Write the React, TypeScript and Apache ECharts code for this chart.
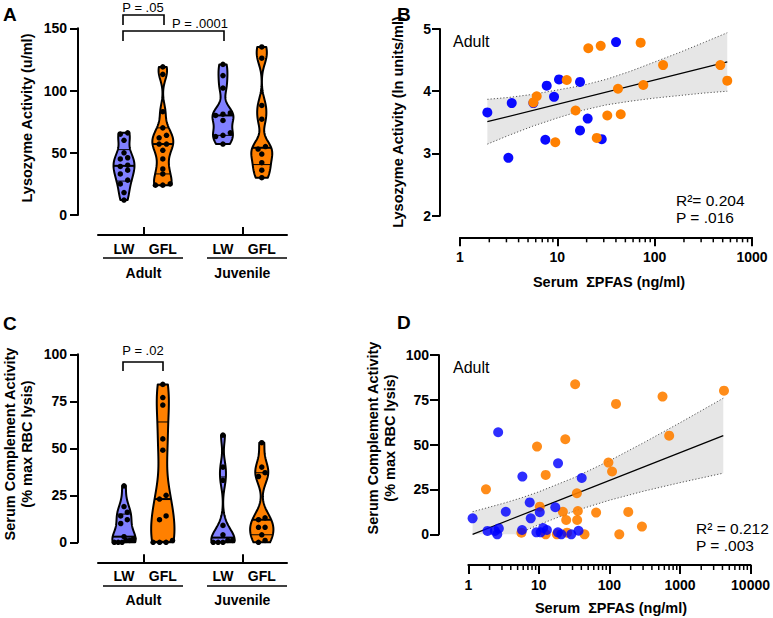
import React, { useEffect, useRef } from "react";
import * as echarts from "echarts";

const FONT = "'Liberation Sans', Arial, Helvetica, sans-serif";

// ---------- Violin panels (A, C) ----------
const speciesLabels = ["LW", "GFL", "LW", "GFL"];
const ageLabels = ["Adult", "Juvenile"];
const violinPositions = [1, 2, 3.55, 4.55];
const ageTickPositions = [1.5, 4.05];
const violinColors = ["#8080ff", "#ff8000", "#8080ff", "#ff8000"];

// Panel A: lysozyme activity (u/ml)
const lysoAdultLW = [66, 65, 60, 50, 46, 45, 40, 39, 36, 33, 28, 25, 18, 12];
const lysoAdultGFL = [119, 113, 83, 70, 64, 62, 57, 57, 52, 45, 37, 33, 25, 24, 24];
const lysoJuvLW = [121, 112, 102, 82, 81, 80, 76, 66, 64, 63, 57];
const lysoJuvGFL = [135, 126, 88, 77, 55, 53, 49, 42, 36, 30];

// Panel C: serum complement activity (% max RBC lysis)
const compAdultLW = [30, 19, 16, 14, 12, 10, 3, 2, 1, 1, 0, 0, 0];
const compAdultGFL = [84, 77, 73, 55, 49, 25, 23, 14, 12, 1, 0, 0, 0];
const compJuvLW = [57, 40, 33, 9, 4, 1, 1, 0, 0, 0];
const compJuvGFL = [53, 40, 37, 35, 13, 12, 8, 8, 4, 1, 0];

const yTicksA = [0, 150, 50];
const yTicksC = [0, 100, 25];

// ---------- Panel B ----------
const bBlueX = [1.91, 3.14, 3.40, 5.67, 7.53, 7.78, 9.25, 10.4, 17.1, 17.1, 20.5, 28.6, 40.1];
const bBlueY = [3.66, 2.93, 3.81, 3.81, 3.22, 4.09, 3.91, 4.19, 4.15, 3.37, 3.56, 3.23, 4.79];
const bOrangeX = [5.67, 6.14, 9.53, 12.5, 15.4, 20.8, 25.4, 27.9, 32.6, 42.0, 44.8, 71.8, 76.4, 122, 473, 557];
const bOrangeY = [3.82, 3.92, 3.18, 4.18, 3.69, 4.69, 3.25, 4.73, 3.61, 4.04, 3.63, 4.78, 4.10, 4.42, 4.42, 4.17];
const bFitX = [1.91, 557];
const bFitY = [3.51, 4.47];
const bBandX = [1.91, 3.16, 5.62, 10, 17.8, 31.6, 56.2, 100, 178, 316, 557];
const bBandUpper = [3.87, 3.9, 3.95, 4.02, 4.09, 4.19, 4.32, 4.47, 4.62, 4.78, 4.94];
const bBandLower = [3.15, 3.29, 3.44, 3.57, 3.69, 3.78, 3.84, 3.89, 3.93, 3.97, 4.0];
const bXTicks = [1, 10, 100, 1000];
const bXMinor = [2, 3, 4, 5, 6, 7, 8, 9, 20, 30, 40, 50, 60, 70, 80, 90, 200, 300, 400, 500, 600, 700, 800, 900];

// ---------- Panel D ----------
const dBlueX = [1.15, 1.87, 2.38, 2.65, 2.57, 2.71, 3.4, 5.84, 5.78, 7.42, 7.67, 9.22, 10.3, 10.6, 11.5, 13.0, 17.1, 18.7, 18.6, 20.8, 28.8, 36.5, 40.5];
const dBlueY = [8.9, 1.9, 1.9, 56.9, 0, 3.3, 12.6, 32.2, 2.4, 17.8, 8.9, 1.1, 12.3, 1.1, 3.5, 2.4, 15.1, 39.6, 1.1, 0, 0, 2.0, 31.4];
const dOrangeX = [1.78, 5.66, 9.42, 10.3, 12.5, 12.5, 18.0, 21.9, 23.7, 24.4, 25.1, 32.7, 34.6, 35.7, 34.9, 44.4, 64.8, 96.8, 109, 124, 138, 185, 289, 566, 703, 4205];
const dOrangeY = [25.1, 0.9, 48.9, 15.4, 33.1, 0, 0, 12.6, 53, 8, 0.9, 83.7, 22.9, 13, 8, 0, 12.1, 40, 35, 72.7, 0, 12.5, 4.3, 76.8, 55, 80.1];
const dFitX = [1.15, 4110];
const dFitY = [0, 55];
const dBandX = [1.15, 3.16, 5.62, 10, 31.6, 100, 316, 1000, 4110];
const dBandUpper = [12.6, 17.3, 20.3, 23.7, 31.6, 41.0, 51.4, 62.2, 75.9];
const dBandLower = [-12.6, -3.7, 1.0, 5.4, 12.9, 19.0, 24.2, 28.8, 34.1];
const dXTicks = [1, 10, 100, 1000, 10000];
const dXMinor = [
  2, 3, 4, 5, 6, 7, 8, 9, 20, 30, 40, 50, 60, 70, 80, 90, 200, 300, 400, 500, 600, 700, 800, 900,
  2000, 3000, 4000, 5000, 6000, 7000, 8000, 9000,
];

// ---------- helpers ----------
function quantile(sorted: number[], p: number) {
  const n = sorted.length;
  let r = (n + 1) * p;
  if (r < 1) r = 1;
  if (r > n) r = n;
  const lo = Math.floor(r);
  const f = r - lo;
  if (lo >= n) return sorted[n - 1];
  return sorted[lo - 1] + f * (sorted[lo] - sorted[lo - 1]);
}

function swarm(vals: number[], pos: number, thr: number, step: number, maxSpan: number) {
  const s = [...vals].sort((a, b) => a - b);
  const out: number[][] = [];
  let i = 0;
  while (i < s.length) {
    let j = i;
    while (j + 1 < s.length && s[j + 1] - s[i] <= thr) j++;
    const k = j - i + 1;
    const st = k > 1 ? Math.min(step, maxSpan / (k - 1)) : 0;
    for (let m = 0; m < k; m++) out.push([pos + (m - (k - 1) / 2) * st, s[i + m]]);
    i = j + 1;
  }
  return out;
}

function makeViolin(panel: number[][], bws: number[], hw: number) {
  return (params: any, api: any) => {
    const idx = params.dataIndex;
    const bw = bws[idx];
    const pos = api.value(0);
    const vals = [...panel[idx]].sort((a, b) => a - b);
    const lo = vals[0];
    const hi = vals[vals.length - 1];
    const N = 90;
    const dens = (y: number) =>
      vals.reduce((acc, v) => {
        const z = (y - v) / bw;
        return acc + Math.exp(-0.5 * z * z);
      }, 0);
    const ys: number[] = [];
    const ds: number[] = [];
    for (let i = 0; i <= N; i++) {
      const y = lo + ((hi - lo) * i) / N;
      ys.push(y);
      ds.push(dens(y));
    }
    const maxD = Math.max(...ds);
    const wAt = (y: number) => (hw * dens(y)) / maxD;
    const right = ys.map((y, i) => api.coord([pos + (hw * ds[i]) / maxD, y]));
    const left = ys.map((y, i) => api.coord([pos - (hw * ds[i]) / maxD, y])).reverse();
    const children: any[] = [
      {
        type: "polygon",
        shape: { points: right.concat(left) },
        style: { fill: violinColors[idx], stroke: "#000", lineWidth: 2, lineJoin: "round" },
      },
    ];
    [0.25, 0.5, 0.75].forEach((p, k) => {
      const qv = quantile(vals, p);
      const w = wAt(qv);
      const a = api.coord([pos - w, qv]);
      const b = api.coord([pos + w, qv]);
      children.push({
        type: "line",
        shape: { x1: a[0], y1: a[1], x2: b[0], y2: b[1] },
        style: { stroke: "#000", lineWidth: k === 1 ? 2 : 1 },
      });
    });
    return { type: "group", children };
  };
}

const nearestLabel = (v: number, positions: number[], labels: string[]) => {
  let best = 0;
  positions.forEach((p, i) => {
    if (Math.abs(p - v) < Math.abs(positions[best] - v)) best = i;
  });
  return labels[best];
};

const axisLineStyle = { color: "#000", width: 2 };
const tickLabel = { color: "#000", fontSize: 14, fontWeight: "bold" as const, fontFamily: FONT };

function yAxisCfg(gridIndex: number, min: number, max: number, interval: number, offset: number, margin: number, tickLen: number) {
  return {
    type: "value",
    gridIndex,
    min,
    max,
    interval,
    offset,
    axisLine: { show: true, onZero: false, lineStyle: axisLineStyle },
    axisTick: { show: true, length: tickLen, lineStyle: axisLineStyle },
    axisLabel: { ...tickLabel, margin },
    splitLine: { show: false },
  };
}

function violinXAxes(gridIndex: number) {
  return [
    {
      type: "value",
      gridIndex,
      position: "bottom",
      min: 0.33,
      max: 5.2,
      offset: 20,
      axisLine: { show: true, onZero: false, lineStyle: axisLineStyle },
      axisTick: { show: true, inside: true, length: 8, customValues: ageTickPositions, lineStyle: axisLineStyle },
      axisLabel: {
        ...tickLabel,
        margin: 7,
        customValues: violinPositions,
        formatter: (v: number) => nearestLabel(v, violinPositions, speciesLabels),
      },
      splitLine: { show: false },
    },
    {
      type: "value",
      gridIndex,
      position: "bottom",
      min: 0.33,
      max: 5.2,
      offset: 49,
      axisLine: { show: false, onZero: false },
      axisTick: { show: false },
      axisLabel: {
        ...tickLabel,
        margin: 2,
        customValues: ageTickPositions,
        formatter: (v: number) => nearestLabel(v, ageTickPositions, ageLabels),
      },
      splitLine: { show: false },
    },
  ];
}

function logXAxis(gridIndex: number, max: number, offset: number, ticks: number[]) {
  return {
    type: "log",
    logBase: 10,
    gridIndex,
    position: "bottom",
    min: 1,
    max,
    offset,
    axisLine: { show: true, onZero: false, lineStyle: axisLineStyle },
    axisTick: { show: true, length: 9, customValues: ticks, lineStyle: axisLineStyle },
    axisLabel: { ...tickLabel, margin: 13, customValues: ticks, formatter: (v: number) => String(Math.round(v)) },
    splitLine: { show: false },
  };
}

const zip = (xs: number[], ys: number[]) => xs.map((x, i) => [x, ys[i]]);

function minorTickSeries(xAxisIndex: number, yAxisIndex: number, vals: number[], yBase: number, offset: number, len: number) {
  return {
    type: "custom",
    xAxisIndex,
    yAxisIndex,
    data: vals.map((v) => [v, yBase]),
    silent: true,
    clip: false,
    renderItem: (params: any, api: any) => {
      const p = api.coord([api.value(0), api.value(1)]);
      const cs = params.coordSys;
      const y0 = cs.y + cs.height + offset;
      return {
        type: "line",
        shape: { x1: p[0], y1: y0, x2: p[0], y2: y0 + len },
        style: { stroke: "#000", lineWidth: 1.5 },
      };
    },
  };
}

function bandSeries(xAxisIndex: number, yAxisIndex: number, bx: number[], up: number[], low: number[]) {
  return {
    type: "custom",
    xAxisIndex,
    yAxisIndex,
    data: bx.map((x, i) => [x, up[i], low[i]]),
    encode: { x: 0, y: [1, 2] },
    silent: true,
    z: 1,
    renderItem: (params: any, api: any) => {
      if (params.dataIndex !== 0) return null;
      const upperPts = bx.map((x, i) => api.coord([x, up[i]]));
      const lowerPts = bx.map((x, i) => api.coord([x, low[i]]));
      const cs = params.coordSys;
      const dotted = { stroke: "#555", lineWidth: 1, lineDash: [1.2, 2], fill: "none" };
      return {
        type: "group",
        clipPath: { type: "rect", shape: { x: cs.x, y: cs.y, width: cs.width, height: cs.height } },
        children: [
          {
            type: "polygon",
            shape: { points: upperPts.concat([...lowerPts].reverse()) },
            style: { fill: "#e6e6e6" },
          },
          { type: "polyline", shape: { points: upperPts }, style: dotted },
          { type: "polyline", shape: { points: lowerPts }, style: dotted },
        ],
      };
    },
  };
}

function fitSeries(xAxisIndex: number, yAxisIndex: number, fx: number[], fy: number[]) {
  return {
    type: "line",
    xAxisIndex,
    yAxisIndex,
    data: zip(fx, fy),
    symbol: "none",
    lineStyle: { color: "#000", width: 1.3 },
    silent: true,
    z: 2,
  };
}

const txt = (text: string, x: number, y: number, extra: any = {}, styleExtra: any = {}) => ({
  type: "text",
  x,
  y,
  silent: true,
  ...extra,
  style: {
    text,
    fill: "#000",
    fontFamily: FONT,
    fontSize: 16,
    align: "left",
    verticalAlign: "middle",
    ...styleExtra,
  },
});

const bracket = (pts: number[][]) => ({
  type: "polyline",
  silent: true,
  shape: { points: pts },
  style: { stroke: "#000", lineWidth: 1.6, fill: "none" },
});

const hline = (x1: number, x2: number, y: number) => ({
  type: "line",
  silent: true,
  shape: { x1, y1: y, x2, y2: y },
  style: { stroke: "#000", lineWidth: 1.6 },
});

export default function App() {
  const ref = useRef<HTMLDivElement>(null);

  useEffect(() => {
    if (!ref.current) return;
    const chart = echarts.init(ref.current, null, { renderer: "svg" });

    const panelA = [lysoAdultLW, lysoAdultGFL, lysoJuvLW, lysoJuvGFL];
    const panelC = [compAdultLW, compAdultGFL, compJuvLW, compJuvGFL];

    const dotsA = panelA.flatMap((vals, i) => swarm(vals, violinPositions[i], 3, 0.19, 0.42));
    const dotsC = panelC.flatMap((vals, i) => swarm(vals, violinPositions[i], 2.5, 0.17, 0.5));

    const titleStyle = { fontWeight: "bold", fontSize: 14.5, align: "center" };

    const option: any = {
      animation: false,
      backgroundColor: "#ffffff",
      grid: [
        { left: 98, top: 28.3, width: 189, height: 186.7 },
        { left: 460, top: 29, width: 292, height: 186.7 },
        { left: 98, top: 354.3, width: 189, height: 188 },
        { left: 468.3, top: 355, width: 283.4, height: 179.3 },
      ],
      xAxis: [
        ...violinXAxes(0), // 0,1
        logXAxis(1, 1000, 21.6, bXTicks), // 2
        ...violinXAxes(2), // 3,4
        logXAxis(3, 10000, 30.7, dXTicks), // 5
      ],
      yAxis: [
        yAxisCfg(0, yTicksA[0], yTicksA[1], yTicksA[2], 20, 11, 8),
        yAxisCfg(1, 2, 5, 1, 20, 9, 8),
        yAxisCfg(2, yTicksC[0], yTicksC[1], yTicksC[2], 20, 11, 8),
        yAxisCfg(3, 0, 100, 25, 29.3, 10, 9),
      ],
      series: [
        // Panel A
        {
          type: "custom",
          xAxisIndex: 0,
          yAxisIndex: 0,
          data: violinPositions.map((p, i) => [p, i]),
          renderItem: makeViolin(panelA, [6.5, 6.5, 6.5, 7], 0.27),
          silent: true,
          clip: false,
          z: 2,
        },
        {
          type: "scatter",
          xAxisIndex: 0,
          yAxisIndex: 0,
          data: dotsA,
          symbolSize: 5.5,
          itemStyle: { color: "#000", opacity: 1 },
          silent: true,
          clip: false,
          z: 3,
        },
        // Panel B
        bandSeries(2, 1, bBandX, bBandUpper, bBandLower),
        fitSeries(2, 1, bFitX, bFitY),
        minorTickSeries(2, 1, bXMinor, 2, 21.6, 5),
        {
          type: "scatter",
          xAxisIndex: 2,
          yAxisIndex: 1,
          data: zip(bBlueX, bBlueY),
          symbolSize: 10,
          itemStyle: { color: "#0a0aff", opacity: 1 },
          silent: true,
          z: 3,
        },
        {
          type: "scatter",
          xAxisIndex: 2,
          yAxisIndex: 1,
          data: zip(bOrangeX, bOrangeY),
          symbolSize: 10,
          itemStyle: { color: "#ff8000", opacity: 1 },
          silent: true,
          z: 3,
        },
        // Panel C
        {
          type: "custom",
          xAxisIndex: 3,
          yAxisIndex: 2,
          data: violinPositions.map((p, i) => [p, i]),
          renderItem: makeViolin(panelC, [5, 12, 5, 5.5], 0.3),
          silent: true,
          clip: false,
          z: 2,
        },
        {
          type: "scatter",
          xAxisIndex: 3,
          yAxisIndex: 2,
          data: dotsC,
          symbolSize: 5.5,
          itemStyle: { color: "#000", opacity: 1 },
          silent: true,
          clip: false,
          z: 3,
        },
        // Panel D
        bandSeries(5, 3, dBandX, dBandUpper, dBandLower),
        fitSeries(5, 3, dFitX, dFitY),
        minorTickSeries(5, 3, dXMinor, 0, 30.7, 5),
        {
          type: "scatter",
          xAxisIndex: 5,
          yAxisIndex: 3,
          data: zip(dOrangeX, dOrangeY),
          symbolSize: 10,
          itemStyle: { color: "#ff8000", opacity: 0.9 },
          silent: true,
          clip: false,
          z: 3,
        },
        {
          type: "scatter",
          xAxisIndex: 5,
          yAxisIndex: 3,
          data: zip(dBlueX, dBlueY),
          symbolSize: 10,
          itemStyle: { color: "#0000ff", opacity: 0.82 },
          silent: true,
          clip: false,
          z: 3,
        },
      ],
      graphic: [
        // panel letters
        txt("A", 3, 14, {}, { fontSize: 19, fontWeight: "bold" }),
        txt("B", 397, 14, {}, { fontSize: 19, fontWeight: "bold" }),
        txt("C", 3, 323, {}, { fontSize: 19, fontWeight: "bold" }),
        txt("D", 397, 322, {}, { fontSize: 19, fontWeight: "bold" }),
        // y-axis titles
        txt("Lysozyme Activity (u/ml)", 27, 118, { rotation: Math.PI / 2 }, titleStyle),
        txt("Lysozyme Activity (ln units/ml)", 398, 122, { rotation: Math.PI / 2 }, titleStyle),
        txt("Serum Complement Activity\n(% max RBC lysis)", 18, 444, { rotation: Math.PI / 2 }, { ...titleStyle, lineHeight: 17 }),
        txt("Serum Complement Activity\n(% max RBC lysis)", 381, 438, { rotation: Math.PI / 2 }, { ...titleStyle, lineHeight: 17 }),
        // x-axis titles
        txt("Serum  ΣPFAS (ng/ml)", 609, 282, {}, titleStyle),
        txt("Serum  ΣPFAS (ng/ml)", 611, 608, {}, titleStyle),
        // annotations
        txt("Adult", 453, 41, {}, { fontSize: 16 }),
        txt("Adult", 453, 367, {}, { fontSize: 16 }),
        txt("R²= 0.204", 676, 200, {}, { fontSize: 15.5 }),
        txt("P = .016", 676, 217, {}, { fontSize: 15.5 }),
        txt("R² = 0.212", 696, 528, {}, { fontSize: 15.5 }),
        txt("P = .003", 696, 545, {}, { fontSize: 15.5 }),
        // brackets A
        bracket([[123, 25], [123, 15], [164, 15], [164, 25]]),
        txt("P = .05", 143, 7, {}, { fontSize: 13, align: "center" }),
        bracket([[123, 41], [123, 31], [224, 31], [224, 41]]),
        txt("P = .0001", 200, 23, {}, { fontSize: 13, align: "center" }),
        // bracket C
        bracket([[123, 371], [123, 362], [163, 362], [163, 371]]),
        txt("P = .02", 143, 350, {}, { fontSize: 13, align: "center" }),
        // group underlines
        hline(103, 183, 258),
        hline(207, 287, 258),
        hline(103, 183, 586),
        hline(207, 287, 586),
      ],
    };

    chart.setOption(option);
    return () => chart.dispose();
  }, []);

  return (
    <div
      ref={ref}
      style={{ position: "absolute", left: 0, top: 0, width: 773, height: 618, background: "#fff" }}
    />
  );
}
